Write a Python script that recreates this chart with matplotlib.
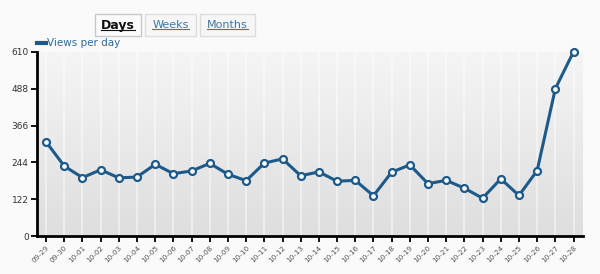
import numpy as np
import matplotlib
matplotlib.use('Agg')
import matplotlib.pyplot as plt
from matplotlib.patches import FancyBboxPatch

# data
dates = ['09-29', '09-30', '10-01', '10-02', '10-03', '10-04', '10-05', '10-06',
         '10-07', '10-08', '10-09', '10-10', '10-11', '10-12', '10-13', '10-14',
         '10-15', '10-16', '10-17', '10-18', '10-19', '10-20', '10-21', '10-22',
         '10-23', '10-24', '10-25', '10-26', '10-27', '10-28']
views = [312, 232, 194, 220, 193, 196, 238, 207, 216, 241, 205, 184, 242, 256,
         200, 213, 182, 185, 134, 212, 236, 174, 185, 159, 126, 190, 135, 217,
         488, 610]
y_ticks = [0, 122, 244, 366, 488, 610]
tabs = ['Days', 'Weeks', 'Months']

line_col = '#1d5a8a'

fig = plt.figure(figsize=(6, 2.74), dpi=100)
fig.patch.set_facecolor('#fafafa')
ax = fig.add_axes([0.0617, 0.1376, 0.9093, 0.6734])

x = np.arange(len(dates))

# gradient background of the plot area
grad = np.linspace(0, 1, 100).reshape(-1, 1)
ax.imshow(grad, extent=[-0.5, len(dates) - 0.5, 0, 610], aspect='auto',
          cmap=matplotlib.colors.LinearSegmentedColormap.from_list('bg', ['#dedede', '#f5f5f5']),
          origin='lower', zorder=0)
for xi in x:
    ax.axvline(xi, color='white', lw=1.5, alpha=0.45, zorder=1)

ax.plot(x, views, color=line_col, lw=2.2, marker='o', markersize=5,
        markerfacecolor='white', markeredgecolor=line_col, markeredgewidth=1.6,
        zorder=3, clip_on=False)

ax.set_xlim(-0.5, len(dates) - 0.5)
ax.set_ylim(0, 610)
ax.set_yticks(y_ticks)
ax.set_yticklabels([str(v) for v in y_ticks], fontsize=6.5, color='#333333')
ax.set_xticks(x)
ax.set_xticklabels(dates, rotation=45, ha='right', rotation_mode='anchor',
                   fontsize=5.2, color='#555555')
ax.tick_params(axis='both', direction='out', length=4, width=1.3, color='black', pad=2)
for s in ['top', 'right']:
    ax.spines[s].set_visible(False)
for s in ['left', 'bottom']:
    ax.spines[s].set_linewidth(2)
    ax.spines[s].set_color('black')

# legend
fig.add_artist(plt.Line2D([37 / 600, 46 / 600], [1 - 43 / 274, 1 - 43 / 274],
                          color=line_col, lw=3, transform=fig.transFigure))
fig.text(47 / 600, 1 - 43 / 274, 'Views per day', color='#2d6a9a', fontsize=7.5,
         va='center', ha='left')

# tabs
tab_box = [(95, 141), (145, 196), (200, 255)]
for i, (name, (x0, x1)) in enumerate(zip(tabs, tab_box)):
    y0, y1 = 14, 36
    box = FancyBboxPatch((x0 / 600, 1 - y1 / 274), (x1 - x0) / 600, (y1 - y0) / 274,
                         boxstyle='square,pad=0', transform=fig.transFigure,
                         facecolor='#fbfbfb' if i == 0 else '#f6f6f6',
                         edgecolor='#c8c8c8' if i == 0 else '#dddddd', lw=1)
    fig.add_artist(box)
    cx = (x0 + x1) / 2 / 600
    if i == 0:
        t = fig.text(cx, 1 - 25 / 274, name, color='#111111', fontsize=9,
                     fontweight='bold', ha='center', va='center')
    else:
        t = fig.text(cx, 1 - 25 / 274, name, color='#3a78a8', fontsize=8,
                     ha='center', va='center')

# underline the tab labels
fig.canvas.draw()
for t in fig.texts[1:]:
    bb = t.get_window_extent().transformed(fig.transFigure.inverted())
    fig.add_artist(plt.Line2D([bb.x0, bb.x1], [bb.y0 + 0.004, bb.y0 + 0.004],
                              color=t.get_color(), lw=0.8, transform=fig.transFigure))

fig.savefig('out.png', dpi=100, facecolor=fig.get_facecolor())
